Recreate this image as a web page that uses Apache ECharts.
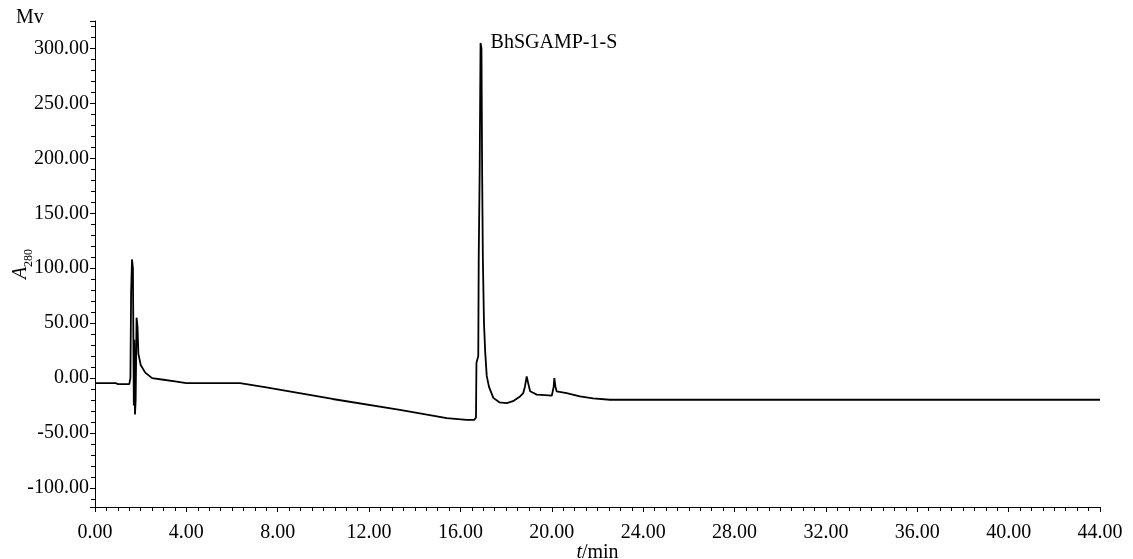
<!DOCTYPE html>
<html>
<head>
    <meta charset="UTF-8">
    <title>BhSGAMP-1-S</title>
    <script type="text/javascript" src="https://cdn.jsdelivr.net/npm/echarts@6/dist/echarts.min.js"></script>
    <style type="text/css">
        html, body { margin: 0; padding: 0; background: #fff; }
        #chart { width: 1133px; height: 559px; }
    </style>
</head>
<body>
<div id="chart"></div>
<script type="text/javascript">
    // retention time (min) and absorbance (mV)
    var times = [0, 0.9, 1.0, 1.5, 1.55, 1.58, 1.62, 1.66, 1.70, 1.72, 1.75, 1.78, 1.82, 1.86, 1.90, 2.0, 2.2, 2.5, 3.0, 3.5, 4.0,
        6.35, 7.5, 10.4, 13.35, 15.4, 16.27, 16.6, 16.68, 16.70, 16.78, 16.80, 16.84, 16.88, 16.92, 16.95, 16.98,
        17.03, 17.08, 17.15, 17.25, 17.44, 17.7, 18.03, 18.3, 18.61, 18.75, 18.82, 18.90, 18.97, 19.05, 19.34, 19.7,
        20.0, 20.08, 20.11, 20.16, 20.21, 20.65, 21.23, 21.8, 22.55, 44];
    var absorb = [-4.5, -4.5, -5.5, -5.5, 0, 77, 108, 100, -25, 35, -33, -20, 55, 47, 22, 12, 5, 0, -1.5, -3, -4.5,
        -4.5, -8.5, -19, -29, -36.4, -38, -38, -36, 14, 20, 110, 185, 305, 300, 185, 110,
        50, 25, 2, -8, -18, -22, -22.7, -21, -16.7, -13.6, -8, 1.5, -5, -12, -15, -15.5,
        -16, -8, 0, -8, -12, -13.6, -16.7, -18.5, -19.7, -19.7];
    var peakName = 'BhSGAMP-1-S';
    var peakTime = 16.88;
    var peakValue = 305;

    var serif = "'Liberation Serif', 'Times New Roman', serif";
    var points = [];
    for (var i = 0; i < times.length; i++) {
        points.push([times[i], absorb[i]]);
    }

    var myChart = echarts.init(document.getElementById('chart'));
    myChart.setOption({
        animation: false,
        title: {
            text: 'Mv',
            left: 11,
            top: 3,
            textStyle: { fontFamily: serif, fontSize: 20, fontWeight: 'normal', color: '#000' }
        },
        grid: { left: 95, right: 33, top: 21, bottom: 52, outerBoundsMode: 'none', containLabel: false },
        xAxis: {
            type: 'value',
            min: 0,
            max: 44,
            interval: 4,
            name: '{i|t}/min',
            nameLocation: 'middle',
            nameGap: 36,
            nameMoveOverlap: false,
            nameTextStyle: {
                fontFamily: serif, fontSize: 20, color: '#000',
                rich: { i: { fontFamily: serif, fontSize: 20, fontStyle: 'italic', color: '#000' } }
            },
            axisLine: { onZero: false, lineStyle: { color: '#000', width: 1 } },
            axisTick: { show: true, length: 5, lineStyle: { color: '#000' } },
            minorTick: { show: true, splitNumber: 8, length: 4, lineStyle: { color: '#000' } },
            splitLine: { show: false },
            axisLabel: {
                margin: 16,
                fontFamily: serif, fontSize: 20, color: '#000',
                formatter: function (v) { return v.toFixed(2); }
            }
        },
        yAxis: {
            type: 'value',
            min: -117.3,
            max: 325,
            splitNumber: 9,
            name: '{a|A}{s|280}',
            nameLocation: 'middle',
            nameRotate: 90,
            nameGap: 60,
            nameMoveOverlap: false,
            nameTextStyle: {
                rich: {
                    a: { fontFamily: serif, fontSize: 20, fontStyle: 'italic', color: '#000', lineHeight: 28 },
                    s: { fontFamily: serif, fontSize: 12, color: '#000', verticalAlign: 'bottom', lineHeight: 28 }
                }
            },
            axisLine: { show: true, onZero: false, lineStyle: { color: '#000', width: 1 } },
            axisTick: { show: true, length: 5, lineStyle: { color: '#000' } },
            minorTick: { show: true, splitNumber: 5, length: 4, lineStyle: { color: '#000' } },
            splitLine: { show: false },
            axisLabel: {
                margin: 6,
                showMinLabel: false,
                showMaxLabel: false,
                fontFamily: serif, fontSize: 20, color: '#000',
                formatter: function (v) { return v.toFixed(2); }
            }
        },
        series: [{
            type: 'line',
            data: points,
            symbol: 'none',
            lineStyle: { color: '#000', width: 1.8 },
            markPoint: {
                symbol: 'circle',
                symbolSize: 0,
                label: {
                    show: true,
                    position: 'right',
                    distance: 10,
                    formatter: peakName,
                    fontFamily: serif, fontSize: 20, color: '#000'
                },
                data: [{ coord: [peakTime, peakValue] }]
            }
        }]
    });
</script>
</body>
</html>
